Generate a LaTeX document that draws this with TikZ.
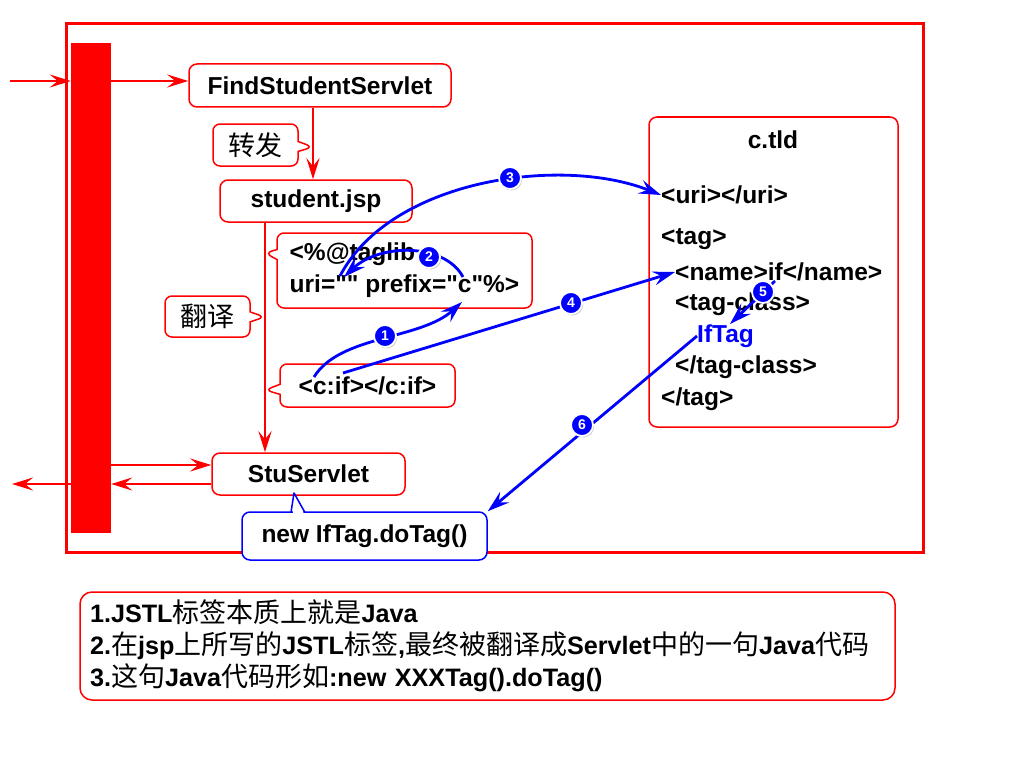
\documentclass[tikz,border=0pt]{standalone}
\usepackage{fontspec}
\setmainfont{Liberation Sans}
\newfontfamily\zh{Noto Sans CJK SC}
\newcommand\zhtxt[1]{{\zh\mdseries\fontsize{27}{32}\selectfont #1}}
\newcommand\qt{\textquotedbl}
\usetikzlibrary{positioning,arrows.meta,shapes.callouts,shadows}

\begin{document}
\begin{tikzpicture}[x=1pt, y=-1pt,
  font=\bfseries\fontsize{24.5}{32}\selectfont,
  box/.style={draw=red, line width=1.5pt, rounded corners=8pt, fill=white, inner sep=0pt},
  note/.style={rectangle callout, draw=red, line width=1.5pt, rounded corners=7pt,
               fill=white, inner sep=0pt, callout pointer width=10pt},
  code/.style={anchor=west, inner sep=0pt},
  rarr/.style={-{Stealth[length=21pt,width=13pt,inset=8pt]}, red, line width=2.5pt},
  barr/.style={-{Stealth[length=22pt,width=14pt,inset=8pt]}, blue, line width=2.8pt},
  num/.style={circle, fill=blue, draw=white, line width=1.8pt, inner sep=0pt,
              minimum size=22pt, text=white, font=\bfseries\fontsize{14}{14}\selectfont,
              drop shadow={opacity=0.4, shadow xshift=1.2pt, shadow yshift=-1.5pt}}
]
\useasboundingbox (0,0) rectangle (1024,773);

% frame and request bar
\draw[red, line width=3pt] (66,24) rectangle (923,552);
\node[fill=red, inner sep=0pt, minimum width=40pt, minimum height=490pt] (bar) at (91,288) {};

% servlets and jsp
\node[box, minimum width=262pt, minimum height=43pt] (find) at (320,85.5) {FindStudentServlet};
\node[box, minimum width=192pt, minimum height=42pt] (student) at (316,201) {student.jsp};
\node[box, minimum width=193pt, minimum height=42pt] (stu) at (308.5,474) {StuServlet};

% c.tld
\node[box, minimum width=249pt, minimum height=310pt] (tld) at (773.5,272) {};
\node[inner sep=0pt] (tldname) at (773,140) {c.tld};
\node[code] (uri) at (661,195) {<uri></uri>};
\node[code] (tag) at (661,239) {<tag>};
\node[code] (name) at (675,272) {<name>if</name>};
\node[code] (tagclass) at (675,304) {<tag-class>};
\node[code, text=blue] (iftag) at (697,336) {IfTag};
\node[code] (endclass) at (675,367) {</tag-class>};
\node[code] (endtag) at (661,399) {</tag>};

% callouts
\coordinate (fwd) at (313,147);
\coordinate (trunk) at (265,222);
\coordinate (p1) at (265,317);
\coordinate (p2) at (265,253);
\coordinate (p3) at (265,390);
\node[note, minimum width=85pt, minimum height=42pt, callout absolute pointer={(fwd)}] (zhuanfa) at (255.5,145) {\zhtxt{转发}};
\node[note, minimum width=85pt, minimum height=41pt, callout absolute pointer={(p1)}] (fanyi) at (207.5,316.5) {\zhtxt{翻译}};
\node[note, minimum width=255pt, minimum height=75pt, align=left, callout absolute pointer={(p2)}] (taglib) at (404.5,270.5) {<\%@taglib\\uri=\qt\qt{} prefix=\qt c\qt\%>};
\node[note, minimum width=175pt, minimum height=43pt, callout absolute pointer={(p3)}] (cif) at (367.5,385.5) {<c:if></c:if>};

\node[box, draw=blue, minimum width=245pt, minimum height=48pt] (newtag) at (364.5,536) {new IfTag.doTag()};
\coordinate (tip) at (294,493);
\fill[white] (293,514) -- (tip) -- (304,514) -- cycle;
\draw[blue, line width=1.5pt, line join=round] (291,512.5) -- (tip) -- (305,512.5);

% summary
\node[box, rounded corners=12pt, minimum width=815pt, minimum height=108pt, text width=795pt,
      align=left, font=\bfseries\fontsize{25.2}{32}\selectfont] (summary) at (487.5,646)
  {1.JSTL\zhtxt{标签本质上就是}Java\\
   2.\zhtxt{在}jsp\zhtxt{上所写的}JSTL\zhtxt{标签},\zhtxt{最终被翻译成}Servlet\zhtxt{中的一句}Java\zhtxt{代码}\\
   3.\zhtxt{这句}Java\zhtxt{代码形如}:new XXXTag().doTag()};

% request flow
\coordinate (in) at (10,81);
\coordinate (out) at (12,484);
\coordinate (stuin) at ([yshift=9pt]stu.west);
\coordinate (stuout) at ([yshift=-10pt]stu.west);
\draw[rarr] (in) -- (in -| bar.west);
\draw[rarr] (in -| bar.east) -- (in -| find.west);
\draw[rarr] (find.south -| fwd) -- (student.north -| fwd);
\draw[rarr] (trunk) -- (stu.north -| trunk);
\draw[rarr] (stuin -| bar.east) -- (stuin);
\draw[rarr] (stuout) -- (stuout -| bar.east);
\draw[rarr] (out -| bar.west) -- (out);

% lookup steps
\coordinate (a1s) at (314,377);
\coordinate (a1e) at (462,302);
\coordinate (a2s) at (463,277);
\coordinate (a2e) at (344,277);
\coordinate (a3s) at (340,276);
\coordinate (a4s) at (343,373);
\coordinate (a5s) at (775,281);
\coordinate (a5e) at (730,324);
\draw[barr] (a1s) .. controls (340,335) and (420,340) .. (a1e);
\draw[barr] (a2s) .. controls (445,243) and (380,243) .. (a2e);
\draw[barr] (a3s) .. controls (390,180) and (560,155) .. (uri.west);
\draw[barr] (a4s) -- (name.west);
\draw[barr] (a5s) -- (a5e);
\draw[barr] (iftag.west) -- (newtag.north east);

\node[num] (n1) at (385,336) {1};
\node[num] (n2) at (429,257) {2};
\node[num] (n3) at (510,178) {3};
\node[num] (n4) at (571,303) {4};
\node[num] (n5) at (763,292) {5};
\node[num] (n6) at (582,425) {6};
\end{tikzpicture}
\end{document}
